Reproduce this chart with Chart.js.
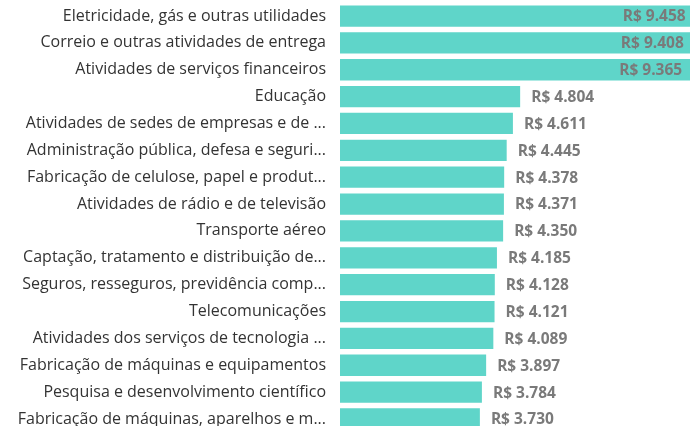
<!DOCTYPE html>
<html>
<head>
<meta charset="utf-8">
<script src="https://cdn.jsdelivr.net/npm/chart.js@4/dist/chart.umd.min.js"></script>
<style>
  html, body { margin: 0; padding: 0; background: #fff; overflow: hidden; }
  #wrap { position: absolute; left: 0; top: -13px; width: 720px; height: 461px; }
</style>
</head>
<body>
<div id="wrap"><canvas id="chart"></canvas></div>
<script>
const categories = [
  "Eletricidade, gás e outras utilidades",
  "Correio e outras atividades de entrega",
  "Atividades de serviços financeiros",
  "Educação",
  "Atividades de sedes de empresas e de ...",
  "Administração pública, defesa e seguri...",
  "Fabricação de celulose, papel e produt...",
  "Atividades de rádio e de televisão",
  "Transporte aéreo",
  "Captação, tratamento e distribuição de...",
  "Seguros, resseguros, previdência comp...",
  "Telecomunicações",
  "Atividades dos serviços de tecnologia ...",
  "Fabricação de máquinas e equipamentos",
  "Pesquisa e desenvolvimento científico",
  "Fabricação de máquinas, aparelhos e m..."
];
const salaries = [9458, 9408, 9365, 4804, 4611, 4445, 4378, 4371, 4350, 4185, 4128, 4121, 4089, 3897, 3784, 3730];

const VISIBLE_W = 690;

function brl(v) {
  return "R$ " + String(v).replace(/\B(?=(\d{3})+(?!\d))/g, ".");
}

// value labels: outside the bar, or inside at the end if they would not fit
const valueLabels = {
  id: "valueLabels",
  afterDatasetsDraw(chart) {
    const ctx = chart.ctx;
    const meta = chart.getDatasetMeta(0);
    ctx.save();
    ctx.font = "bold 15.5px 'Open Sans', sans-serif";
    ctx.fillStyle = "#7a7a7a";
    ctx.textBaseline = "middle";
    meta.data.forEach((bar, i) => {
      const text = brl(salaries[i]);
      const w = ctx.measureText(text).width;
      if (bar.x + 11 + w > VISIBLE_W) {
        ctx.textAlign = "right";
        ctx.fillText(text, bar.x - 9, bar.y + 1);
      } else {
        ctx.textAlign = "left";
        ctx.fillText(text, bar.x + 11, bar.y + 1);
      }
    });
    ctx.restore();
  }
};

new Chart(document.getElementById("chart"), {
  type: "bar",
  data: {
    labels: categories,
    datasets: [{
      data: salaries,
      backgroundColor: "#5fd5c9",
      borderWidth: 0,
      categoryPercentage: 0.8,
      barPercentage: 0.99
    }]
  },
  options: {
    indexAxis: "y",
    responsive: true,
    maintainAspectRatio: false,
    animation: false,
    layout: { padding: { top: 3, bottom: 2, right: 5, left: 0 } },
    plugins: { legend: { display: false }, tooltip: { enabled: false } },
    scales: {
      x: { display: false, min: 0, max: 10000 },
      y: {
        grid: { display: false },
        border: { display: false },
        afterFit: (scale) => { scale.width = 340; },
        ticks: {
          padding: 6,
          color: "#333333",
          font: { family: "'Open Sans', sans-serif", size: 16 }
        }
      }
    }
  },
  plugins: [valueLabels]
});
</script>
</body>
</html>
